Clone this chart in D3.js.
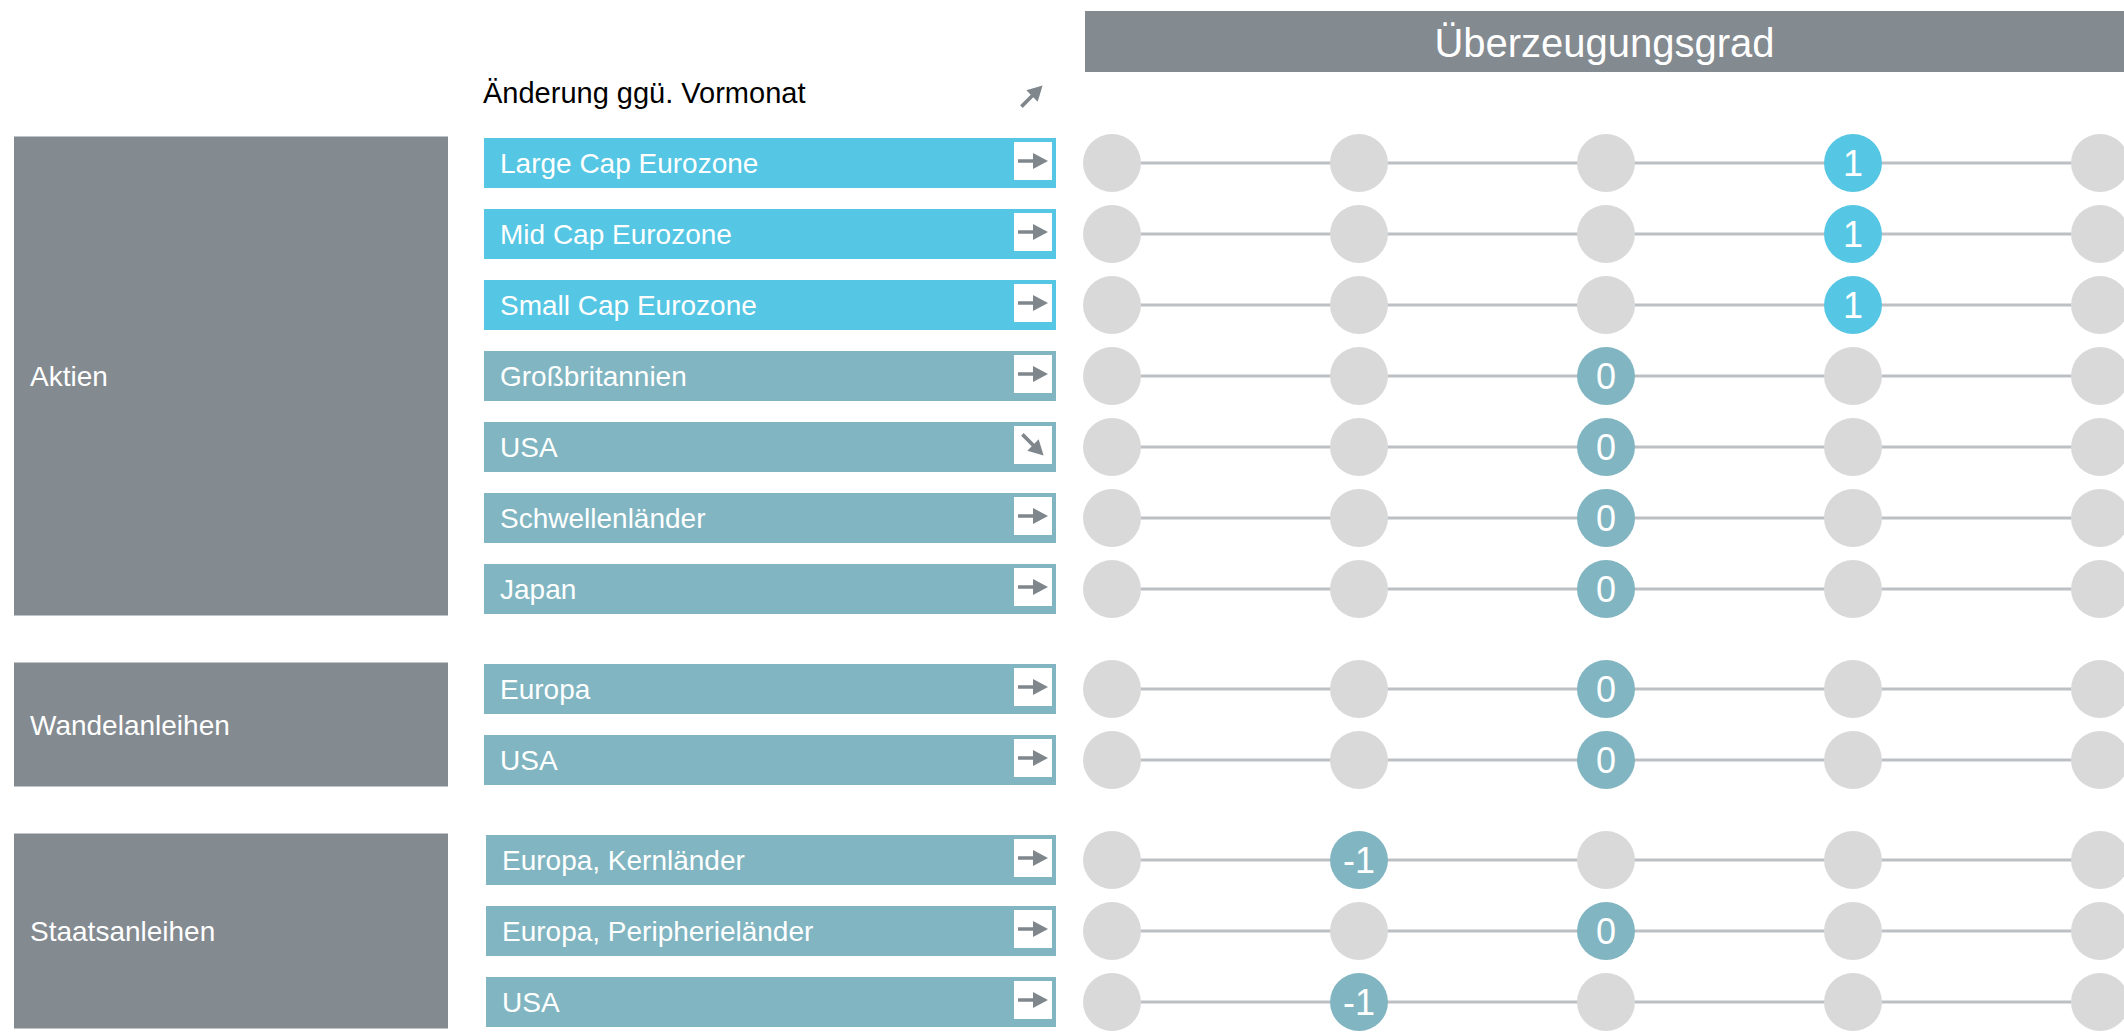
<!DOCTYPE html>
<html>
<head>
<meta charset="utf-8">
<script src="https://cdn.jsdelivr.net/npm/d3@7"></script>
<style>
  html, body { margin: 0; padding: 0; background: #ffffff; }
  svg { display: block; }
  text { font-family: "Liberation Sans", Arial, Helvetica, sans-serif; }
</style>
</head>
<body>
<svg id="chart" width="2124" height="1032"></svg>
<script>
// ---------- data ----------
const groups = ["Aktien", "Wandelanleihen", "Staatsanleihen"];
const rowLabels = [
  "Large Cap Eurozone", "Mid Cap Eurozone", "Small Cap Eurozone", "Großbritannien",
  "USA", "Schwellenländer", "Japan",
  "Europa", "USA",
  "Europa, Kernländer", "Europa, Peripherieländer", "USA"
];
const rowGroup = [0, 0, 0, 0, 0, 0, 0, 1, 1, 2, 2, 2];
const convictionValues = [1, 1, 1, 0, 0, 0, 0, 0, 0, -1, 0, -1];
const changeVsPrevMonth = ["flat", "flat", "flat", "flat", "down", "flat", "flat", "flat", "flat", "flat", "flat", "flat"];
const highlightRows = [true, true, true, false, false, false, false, false, false, false, false, false];
const scaleLevels = [-2, -1, 0, 1, 2];
const titleText = "Überzeugungsgrad";
const headerText = "Änderung ggü. Vormonat";
const headerArrow = "up";

// ---------- layout ----------
const svg = d3.select("#chart");
const C = {
  groupGray: "#838a90",
  cyan: "#55c6e3",
  teal: "#80b5c1",
  circleGray: "#d9d9d9",
  line: "#bcc0c4",
  arrow: "#7f878c"
};
const pitch = 71, gap = 29, barH = 50;
const slots = rowLabels.map((d, i) => i + rowGroup[i] * gap / pitch);
const lastSlot = slots[slots.length - 1];
const y = d3.scaleLinear().domain([0, lastSlot]).range([138, 138 + lastSlot * pitch]);
const x = d3.scaleLinear().domain([d3.min(scaleLevels), d3.max(scaleLevels)]).range([1112, 2100]);
const barX0 = 484, barX1 = 1056;
const angle = { flat: 0, down: 45, up: -45 };

// title bar
svg.append("rect").attr("x", 1085).attr("y", 11).attr("width", 2124 - 1085).attr("height", 61).attr("fill", C.groupGray);
svg.append("text").attr("x", (1085 + 2124) / 2).attr("y", 57).attr("text-anchor", "middle")
  .attr("font-size", 40).attr("fill", "#fff").text(titleText);

// header
svg.append("text").attr("x", 483).attr("y", 103).attr("font-size", 29).attr("fill", "#000").text(headerText);

function arrow(g, cx, cy, dir) {
  g.append("path")
    .attr("d", "M-15,-1.8 L0,-1.8 L0,-8 L15,0 L0,8 L0,1.8 L-15,1.8 Z")
    .attr("fill", C.arrow)
    .attr("transform", `translate(${cx},${cy}) rotate(${angle[dir]})`);
}
arrow(svg, 1032, 96, headerArrow);

// group boxes
groups.forEach((gname, gi) => {
  const idx = rowGroup.map((g, i) => g === gi ? i : -1).filter(i => i >= 0);
  const top = y(slots[idx[0]]) - 1.5;
  const bot = y(slots[idx[idx.length - 1]]) + barH + 1.5;
  svg.append("rect").attr("x", 14).attr("y", top).attr("width", 434).attr("height", bot - top).attr("fill", C.groupGray);
  svg.append("text").attr("x", 30).attr("y", (top + bot) / 2 + 10).attr("font-size", 28).attr("fill", "#fff").text(gname);
});

// rows
const rows = svg.selectAll("g.row").data(rowLabels).join("g").attr("class", "row");
rows.each(function (label, i) {
  const g = d3.select(this);
  const top = y(slots[i]);
  const cy = top + barH / 2;
  const bx = rowGroup[i] === 2 ? barX0 + 2 : barX0;
  const fill = highlightRows[i] ? C.cyan : C.teal;
  g.append("rect").attr("x", bx).attr("y", top).attr("width", barX1 - bx).attr("height", barH).attr("fill", fill);
  g.append("text").attr("x", bx + 16).attr("y", cy + 10).attr("font-size", 28).attr("fill", "#fff").text(label);
  g.append("rect").attr("x", barX1 - 42).attr("y", top + 4).attr("width", 38).attr("height", 38).attr("fill", "#fff");
  arrow(g, barX1 - 23, top + 23, changeVsPrevMonth[i]);

  // conviction scale
  g.append("line").attr("x1", x(scaleLevels[0])).attr("x2", x(scaleLevels[scaleLevels.length - 1]))
    .attr("y1", cy).attr("y2", cy).attr("stroke", C.line).attr("stroke-width", 3);
  g.selectAll("circle").data(scaleLevels).join("circle")
    .attr("cx", d => x(d)).attr("cy", cy).attr("r", 29)
    .attr("fill", d => d === convictionValues[i] ? fill : C.circleGray);
  g.append("text").attr("x", x(convictionValues[i])).attr("y", cy + 13).attr("text-anchor", "middle")
    .attr("font-size", 36).attr("fill", "#fff").text(convictionValues[i]);
});
</script>
</body>
</html>
